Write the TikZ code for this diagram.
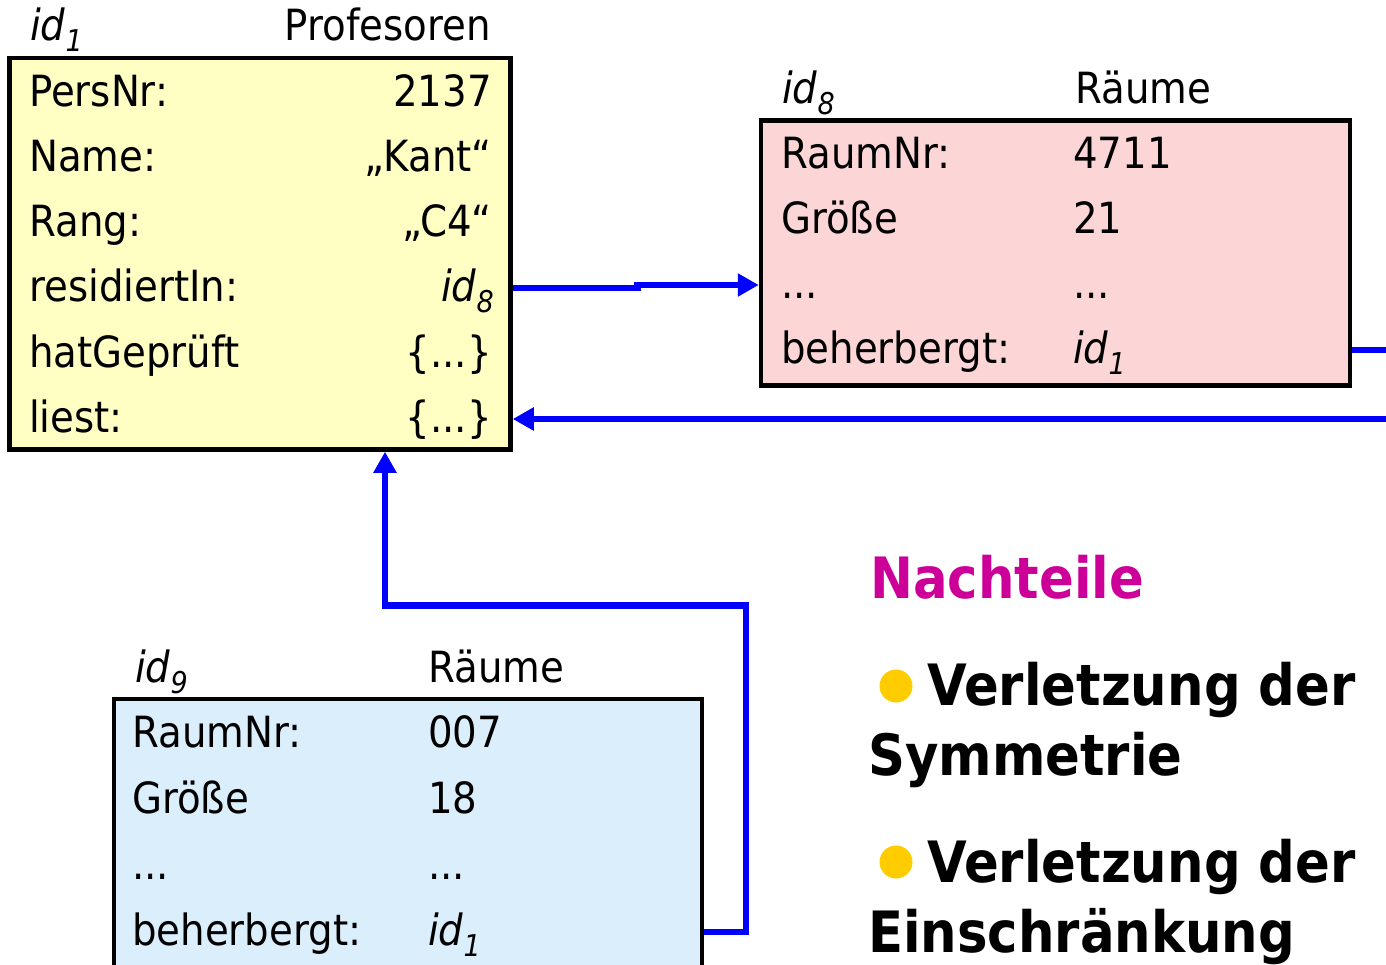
\documentclass[tikz,border=0pt]{standalone}
\usepackage{fontspec}
\setmainfont{DejaVu Sans}[FakeStretch=0.9]
\usetikzlibrary{arrows.meta}

\definecolor{profyellow}{RGB}{255,255,196}
\definecolor{raumpink}{RGB}{252,214,214}
\definecolor{raumblue}{RGB}{218,238,252}
\definecolor{linkblue}{RGB}{0,0,255}
\definecolor{headmagenta}{RGB}{204,0,153}
\definecolor{bulletyellow}{RGB}{255,204,0}

\newcommand\oid[1]{\textit{id}\raisebox{-11pt}{\fontsize{30}{30}\selectfont\textit{#1}}}

\tikzset{
  objbox/.style={draw=black, line width=4.5pt, inner sep=0pt, anchor=north west},
  attr/.style={font=\fontsize{43}{43}\selectfont, inner sep=0pt, anchor=base west, text height=33pt, text depth=7pt},
  val/.style={attr, anchor=base east},
  link/.style={draw=linkblue, line width=6.8pt},
  arrowtip/.style={-{Triangle[length=21pt,width=22pt]}},
  boldtext/.style={font=\fontsize{57}{57}\selectfont\bfseries, inner sep=0pt, anchor=base west},
  bulletdot/.style={circle, fill=bulletyellow, minimum size=33pt, inner sep=0pt}
}

\begin{document}
\begin{tikzpicture}[x=1pt,y=-1pt]
  \useasboundingbox (0,0) rectangle (1386,964);

  % Profesoren id1
  \node[objbox, fill=profyellow, minimum width=501pt, minimum height=391.5pt] (prof) at (7.25,55.75) {};
  \node[attr] (prof-id) at (30,40) {\oid{1}};
  \node[val] (prof-type) at (491,40) {Profesoren};
  \node[attr] (p-persnr-k) at (29,106) {PersNr:};
  \node[val]  (p-persnr)   at (492,106) {2137};
  \node[attr] (p-name-k) at (29,171) {Name:};
  \node[val]  (p-name)   at (492,171) {„Kant“};
  \node[attr] (p-rang-k) at (29,236) {Rang:};
  \node[val]  (p-rang)   at (492,236) {„C4“};
  \node[attr] (p-res-k) at (29,301) {residiertIn:};
  \node[val]  (p-res)   at (494,301) {\oid{8}};
  \node[attr] (p-hat-k) at (29,367) {hatGeprüft};
  \node[val]  (p-hat)   at (492,367) {\{...\}};
  \node[attr] (p-liest-k) at (29,432) {liest:};
  \node[val]  (p-liest)   at (492,432) {\{...\}};

  % Raeume id8
  \node[objbox, fill=raumpink, minimum width=589pt, minimum height=265pt] (raum8) at (758.75,118.25) {};
  \node[attr] (r8-id) at (782,103) {\oid{8}};
  \node[attr] (r8-type) at (1075,103) {Räume};
  \node[attr] (r8-nr-k) at (781,168) {RaumNr:};
  \node[attr] (r8-nr)   at (1073,168) {4711};
  \node[attr] (r8-gr-k) at (781,233) {Größe};
  \node[attr] (r8-gr)   at (1073,233) {21};
  \node[attr] (r8-dots-k) at (781,298) {...};
  \node[attr] (r8-dots)   at (1073,298) {...};
  \node[attr] (r8-beh) at (781,363) {beherbergt:};
  \node[attr] (r8-id1) at (1073,363) {\oid{1}};

  % Raeume id9
  \node[objbox, fill=raumblue, minimum width=588pt, minimum height=320pt] (raum9) at (111.75,696.75) {};
  \node[attr] (r9-id) at (135,682) {\oid{9}};
  \node[attr] (r9-type) at (428,682) {Räume};
  \node[attr] (r9-nr-k) at (132,747) {RaumNr:};
  \node[attr] (r9-nr)   at (428,747) {007};
  \node[attr] (r9-gr-k) at (132,813) {Größe};
  \node[attr] (r9-gr)   at (428,813) {18};
  \node[attr] (r9-dots-k) at (132,879) {...};
  \node[attr] (r9-dots)   at (428,879) {...};
  \node[attr] (r9-beh) at (132,945) {beherbergt:};
  \node[attr] (r9-id1) at (428,945) {\oid{1}};

  % Verweise
  \coordinate (offright) at (1410,0);
  \coordinate (bendA) at (746,605.5);
  \coordinate (bendB) at (385,605.5);
  \draw[link, arrowtip] (prof.east |- p-res) -- ++(125,0) |- (raum8.west |- r8-dots);
  \draw[link, arrowtip] (raum8.east |- r8-beh) -| (offright |- p-liest) -- (prof.east |- p-liest);
  \draw[link, arrowtip] (raum9.east |- r9-beh) -| (bendA) -- (bendB) -- (bendB |- prof.south);

  % Nachteile
  \node[boldtext, text=headmagenta] (nachteile) at (870,598) {Nachteile};
  \node[bulletdot] (dot1) at (896,686) {};
  \node[boldtext] (sym1) at (927,705) {Verletzung der};
  \node[boldtext] (sym2) at (868,775) {Symmetrie};
  \node[bulletdot] (dot2) at (896,862) {};
  \node[boldtext] (ein1) at (927,882) {Verletzung der};
  \node[boldtext] (ein2) at (868,952) {Einschränkung};
\end{tikzpicture}
\end{document}
